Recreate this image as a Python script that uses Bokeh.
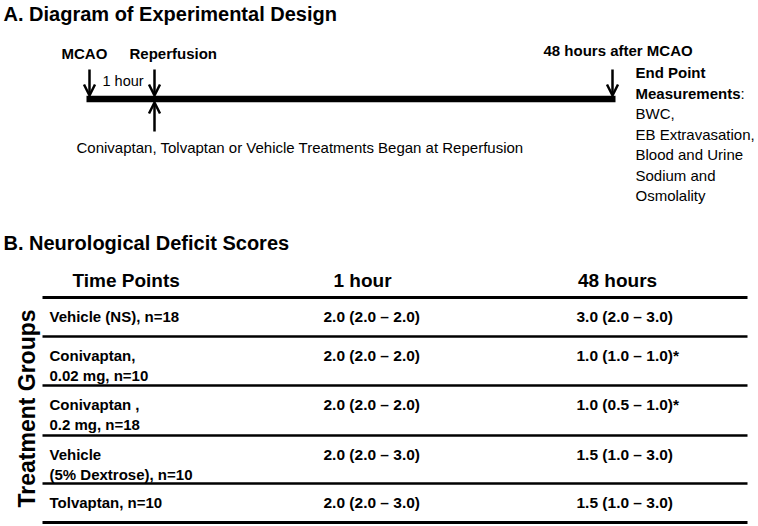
import math
from bokeh.plotting import figure
from bokeh.models import Range1d, Arrow, OpenHead, ColumnDataSource
from bokeh.core.properties import value
from bokeh.embed import file_html
from bokeh.resources import INLINE

# ---------------- data ----------------
panel_titles = ["A. Diagram of Experimental Design", "B. Neurological Deficit Scores"]
timeline_events = ["MCAO", "Reperfusion", "48 hours after MCAO"]
interval_label = "1 hour"
treatment_note = "Conivaptan, Tolvaptan or Vehicle Treatments Began at Reperfusion"
endpoint_heading = ["End Point", "Measurements"]
endpoint_items = ["BWC,", "EB Extravasation,", "Blood and Urine", "Sodium and", "Osmolality"]
header_label = "Time Points"
side_label = "Treatment Groups"
time_points = ["1 hour", "48 hours"]
treatment_groups = [
    "Vehicle (NS), n=18",
    "Conivaptan,\n0.02 mg, n=10",
    "Conivaptan ,\n0.2 mg, n=18",
    "Vehicle\n(5% Dextrose), n=10",
    "Tolvaptan, n=10",
]
scores_1h = ["2.0 (2.0 \u2013 2.0)", "2.0 (2.0 \u2013 2.0)", "2.0 (2.0 \u2013 2.0)",
             "2.0 (2.0 \u2013 3.0)", "2.0 (2.0 \u2013 3.0)"]
scores_48h = ["3.0 (2.0 \u2013 3.0)", "1.0 (1.0 \u2013 1.0)*", "1.0 (0.5 \u2013 1.0)*",
              "1.5 (1.0 \u2013 3.0)", "1.5 (1.0 \u2013 3.0)"]

# ---------------- layout ----------------
FONT = "Liberation Sans"
p = figure(width=758, height=526, x_range=Range1d(0, 758), y_range=Range1d(526, 0),
           output_backend="svg", toolbar_location=None, min_border=0)
p.axis.visible = False
p.grid.visible = False
p.outline_line_color = None
p.background_fill_color = "white"
p.border_fill_color = "white"


def txt(xs, ys, texts, size, bold=False, align="left", angle=0.0):
    src = ColumnDataSource(dict(x=xs, y=ys, text=texts))
    p.text(x="x", y="y", text="text", source=src, text_font=value(FONT),
           text_font_size=f"{size}px", text_font_style="bold" if bold else "normal",
           text_align=align, text_baseline="middle", text_color="black", angle=angle)


def arrow(x, y0, y1):
    p.add_layout(Arrow(end=OpenHead(size=11, line_width=2.5, line_color="black"),
                       x_start=x, y_start=y0, x_end=x, y_end=y1,
                       line_width=2.5, line_color="black"))


# panel titles
txt([3, 3], [13, 242], panel_titles, 20, bold=True)

# ---- Panel A: timeline ----
bar_x0, bar_x1, bar_y = 86, 615, 98.5
event_x = [89, 154, 612]
p.segment(x0=[bar_x0], y0=[bar_y], x1=[bar_x1], y1=[bar_y], line_width=6.5,
          line_color="black", line_cap="butt")
for ex in event_x:
    arrow(ex, 69, 95)
arrow(event_x[1], 131, 102)

txt([61, 129], [53, 53], timeline_events[:2], 15, bold=True)
txt([543], [50], timeline_events[2:], 15, bold=True)
txt([102], [80], [interval_label], 14.5)
txt([76], [147], [treatment_note], 15)

ep_x, ep_y0, ep_dy = 635, 72, 20.5
txt([ep_x, ep_x], [ep_y0, ep_y0 + ep_dy], endpoint_heading, 15, bold=True)
txt([ep_x + 105], [ep_y0 + ep_dy], [":"], 15)
txt([ep_x] * len(endpoint_items),
    [ep_y0 + ep_dy * (i + 2) for i in range(len(endpoint_items))], endpoint_items, 15)

# ---- Panel B: table ----
tbl_x0, tbl_x1 = 42, 747
rule_y = [297, 336, 385, 435, 483, 522]
rule_w = [3, 2.5, 2.5, 2.5, 2.5, 3]
for ry, rw in zip(rule_y, rule_w):
    p.segment(x0=[tbl_x0], y0=[ry], x1=[tbl_x1], y1=[ry], line_width=rw, line_color="black")

txt([72], [280], [header_label], 19, bold=True)
txt([362, 617], [280, 280], time_points, 19, bold=True, align="center")
txt([26], [408], [side_label], 23, bold=True, align="center", angle=math.pi / 2)

lab_x, lab_y, lab_t = [], [], []
for i, g in enumerate(treatment_groups):
    first = rule_y[i] + 19
    for j, line in enumerate(g.split("\n")):
        lab_x.append(49)
        lab_y.append(first + 20 * j)
        lab_t.append(line)
txt(lab_x, lab_y, lab_t, 15, bold=True)

row_y = [rule_y[i] + 19 for i in range(len(treatment_groups))]
txt([323] * len(scores_1h), row_y, scores_1h, 15.5, bold=True)
txt([576] * len(scores_48h), row_y, scores_48h, 15.5, bold=True)

open("out.html", "w").write(file_html(p, INLINE))
